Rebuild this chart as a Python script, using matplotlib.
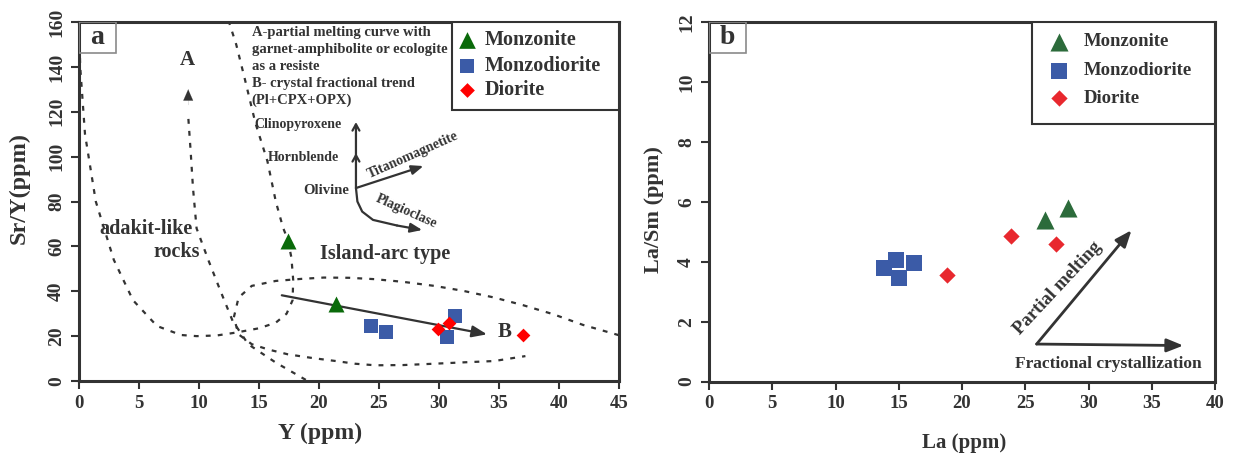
import matplotlib
matplotlib.use("Agg")
import matplotlib.pyplot as plt
from matplotlib.patches import Rectangle

plt.rcParams['font.family'] = ['Liberation Serif', 'DejaVu Serif']
plt.rcParams['font.weight'] = 'bold'

# ---------------- data ----------------
series_names = ["Monzonite", "Monzodiorite", "Diorite"]

# Panel a: Y (ppm) vs Sr/Y
a_monzonite_x = [17.45, 21.45]
a_monzonite_y = [62.5, 34.5]
a_monzodiorite_x = [24.3, 25.6, 31.3, 30.7]
a_monzodiorite_y = [24.5, 22.0, 29.0, 19.5]
a_diorite_x = [29.9, 30.8, 37.0]
a_diorite_y = [23.2, 26.0, 20.3]

# Panel b: La (ppm) vs La/Sm
b_monzonite_x = [26.6, 28.4]
b_monzonite_y = [5.4, 5.8]
b_monzodiorite_x = [13.8, 14.8, 15.0, 16.2]
b_monzodiorite_y = [3.8, 4.05, 3.45, 3.95]
b_diorite_x = [18.8, 23.9, 27.4]
b_diorite_y = [3.55, 4.85, 4.6]

adakite_curve_x = [0.0, 0.1, 0.5, 1.4, 2.9, 4.5, 6.5, 8.5, 9.8, 11.5, 13.1, 15.0, 16.4,
                   17.3, 17.8, 17.85, 17.7, 17.4, 17.0, 16.4, 15.7, 14.7, 13.8, 13.1, 12.5]
adakite_curve_y = [160, 140, 110, 80, 54, 36, 24.5, 20.5, 20.0, 20.3, 21.6, 23.5, 26.0,
                   30, 36, 45, 55, 63, 68.4, 80, 98, 115, 135, 150, 160]
curveA_x = [18.9, 16.4, 14.1, 12.8, 11.8, 10.8, 9.8, 9.5, 9.3, 9.1]
curveA_y = [0.5, 8.2, 16.4, 26.8, 40.0, 53.6, 68.0, 86.0, 102.7, 118.0]
arc_x = [45, 42, 39.5, 37, 34.6, 32, 29.6, 27, 24.6, 22.5, 20.4, 18.5, 16.4, 14.4, 13.3,
         12.9, 13.3, 14.4, 15.8, 17.4, 19.5, 21.4, 23, 24.7, 27, 29.6, 32, 34.6, 37.2]
arc_y = [20.4, 25, 29.8, 33.8, 37.2, 40.2, 42.4, 44.2, 45.4, 46, 46.1, 45.5, 44.6, 42.4, 37.2,
         28.3, 20.8, 16.4, 14, 11.9, 10.2, 8.9, 7.7, 7.0, 7.1, 7.7, 8.3, 8.9, 11.1]
trendB_start = (16.9, 38.2)
trendB_end = (34.0, 20.8)
olivine_origin = (23.08, 86.0)
hornblende_tip = (23.08, 101.6)
clinopyroxene_tip = (23.08, 115.4)
titanomagnetite_tip = (28.7, 95.8)
plagioclase_path_x = [23.08, 23.2, 23.6, 24.5, 26.5]
plagioclase_path_y = [86.0, 80.0, 75.5, 71.8, 69.3]
plagioclase_tip = (28.6, 67.3)

# panel b arrows
pm_start = (25.9, 1.25)
pm_end = (33.4, 5.05)
fc_end = (37.5, 1.2)

a_xticks = [0, 5, 10, 15, 20, 25, 30, 35, 40, 45]
a_yticks = [0, 20, 40, 60, 80, 100, 120, 140, 160]
b_xticks = [0, 5, 10, 15, 20, 25, 30, 35, 40]
b_yticks = [0, 2, 4, 6, 8, 10, 12]

notes_a = ["A-partial melting curve with", "garnet-amphibolite or ecologite",
           "as a resiste", "B- crystal fractional trend", "(Pl+CPX+OPX)"]

# ---------------- style ----------------
TXT = '#333333'
SP = '#333333'
cols_a = ['#0a6a0a', '#3b5ba7', '#ff0000']
cols_b = ['#2c6b3b', '#3b5ba7', '#e8282e']

fig = plt.figure(figsize=(12.35, 4.58), dpi=100)
axa = fig.add_axes([79/1235, (458-381)/458, 540/1235, 359/458])
axb = fig.add_axes([709/1235, (458-381.5)/458, 506/1235, 359.5/458])


def style_axes(ax, xt, yt, xlim, ylim):
    ax.set_xlim(*xlim)
    ax.set_ylim(*ylim)
    ax.set_xticks(xt)
    ax.set_yticks(yt)
    ax.set_xticklabels([str(v) for v in xt], fontsize=13.5, fontweight='bold', color=TXT)
    ax.set_yticklabels([str(v) for v in yt], fontsize=14, fontweight='bold', color=TXT,
                       rotation=90, va='center')
    ax.tick_params(direction='out', length=6, width=1.5, color=SP, pad=4)
    for s in ax.spines.values():
        s.set_color(SP)
        s.set_linewidth(2.2)


# ---------------- panel a ----------------
ax = axa
style_axes(ax, a_xticks, a_yticks, (0, 45), (0, 160))
dash = (0, (2.2, 3.2))
ax.plot(adakite_curve_x, adakite_curve_y, color=SP, lw=1.6, ls=dash, clip_on=False)
ax.plot(curveA_x, curveA_y, color=SP, lw=1.6, ls=dash)
ax.annotate('', xy=(9.1, 130), xytext=(9.1, 123),
            arrowprops=dict(arrowstyle='-|>,head_length=0.8,head_width=0.35',
                            color=SP, lw=0.1, shrinkA=0, shrinkB=0))
ax.plot(arc_x, arc_y, color=SP, lw=1.6, ls=dash)
ax.annotate('', xy=trendB_end, xytext=trendB_start,
            arrowprops=dict(arrowstyle='-|>,head_length=0.9,head_width=0.35',
                            color=SP, lw=1.6, shrinkA=0, shrinkB=0))
arrow_kw = dict(arrowstyle='-|>,head_length=0.7,head_width=0.28', color=SP, lw=1.6,
                shrinkA=0, shrinkB=0)
open_kw = dict(arrowstyle='->,head_length=0.45,head_width=0.25', color=SP, lw=1.6,
               shrinkA=0, shrinkB=0)
ax.annotate('', xy=hornblende_tip, xytext=olivine_origin, arrowprops=open_kw)
ax.annotate('', xy=clinopyroxene_tip, xytext=(olivine_origin[0], hornblende_tip[1] - 1),
            arrowprops=open_kw)
ax.annotate('', xy=titanomagnetite_tip, xytext=olivine_origin, arrowprops=arrow_kw)
ax.plot(plagioclase_path_x, plagioclase_path_y, color=SP, lw=1.6, solid_capstyle='round')
ax.annotate('', xy=plagioclase_tip, xytext=(plagioclase_path_x[-1], plagioclase_path_y[-1]),
            arrowprops=arrow_kw)

ax.scatter(a_monzonite_x, a_monzonite_y, marker='^', s=11.5**2, color=cols_a[0], zorder=5, linewidths=0)
ax.scatter(a_monzodiorite_x, a_monzodiorite_y, marker='s', s=10**2, color=cols_a[1], zorder=5, linewidths=0)
ax.scatter(a_diorite_x, a_diorite_y, marker='D', s=7**2, color=cols_a[2], zorder=6, linewidths=0)

for i, line in enumerate(notes_a):
    ax.text(14.4, 155.2 - i * 7.5, line, fontsize=10.5, color=TXT, va='center', ha='left')
ax.text(14.6, 114.1, 'Clinopyroxene', fontsize=10, color=TXT, va='center', ha='left')
ax.text(15.75, 99.8, 'Hornblende', fontsize=10, color=TXT, va='center', ha='left')
ax.text(22.5, 84.7, 'Olivine', fontsize=10.5, color=TXT, va='center', ha='right')
ax.text(27.8, 100.5, 'Titanomagnetite', fontsize=10, color=TXT, va='center', ha='center',
        rotation=24, rotation_mode='anchor')
ax.text(27.3, 75.5, 'Plagioclase', fontsize=10, color=TXT, va='center', ha='center',
        rotation=-24, rotation_mode='anchor')
ax.text(9.0, 143, 'A', fontsize=15, color=TXT, va='center', ha='center')
ax.text(35.5, 21.8, 'B', fontsize=15, color=TXT, va='center', ha='center')
ax.text(5.6, 67.7, 'adakit-like', fontsize=14.5, color=TXT, va='center', ha='center')
ax.text(10.1, 57.3, 'rocks', fontsize=14.5, color=TXT, va='center', ha='right')
ax.text(20.1, 56.6, 'Island-arc type', fontsize=14.5, color=TXT, va='center', ha='left')

# label box a
ax.add_patch(Rectangle((0, 146.2), 3.08, 13.8, fill=False, edgecolor='#8a8a8a', lw=1.2, zorder=4))
ax.text(1.54, 153.1, 'a', fontsize=20, color=TXT, va='center', ha='center')

# legend a
ax.add_patch(Rectangle((31.1, 120.8), 13.9, 39.2, facecolor='white', edgecolor=SP, lw=1.5, zorder=7))
leg_y_a = [152.0, 140.6, 129.8]
leg_m = ['^', 's', 'D']
leg_s_a = [12**2, 10.5**2, 7.5**2]
for k in range(3):
    ax.scatter([32.3], [leg_y_a[k]], marker=leg_m[k], s=leg_s_a[k], color=cols_a[k], zorder=8, linewidths=0)
    ax.text(33.8, leg_y_a[k], series_names[k], fontsize=14.5, color=TXT, va='center', ha='left', zorder=8)

ax.set_xlabel('Y (ppm)', fontsize=17, fontweight='bold', color=TXT, va='center')
ax.set_ylabel('Sr/Y(ppm)', fontsize=17.5, fontweight='bold', color=TXT, va='center')
ax.xaxis.set_label_coords(0.446, -0.145)
ax.yaxis.set_label_coords(-0.111, 0.538)

# ---------------- panel b ----------------
ax = axb
style_axes(ax, b_xticks, b_yticks, (0, 40), (0, 12))
ax.scatter(b_monzonite_x, b_monzonite_y, marker='^', s=13**2, color=cols_b[0], zorder=5, linewidths=0)
ax.scatter(b_monzodiorite_x, b_monzodiorite_y, marker='s', s=11.5**2, color=cols_b[1], zorder=5, linewidths=0)
ax.scatter(b_diorite_x, b_diorite_y, marker='D', s=8.3**2, color=cols_b[2], zorder=6, linewidths=0)

ax.annotate('', xy=pm_end, xytext=pm_start,
            arrowprops=dict(arrowstyle='-|>,head_length=1.0,head_width=0.4', color=SP, lw=2,
                            shrinkA=0, shrinkB=0))
ax.annotate('', xy=fc_end, xytext=pm_start,
            arrowprops=dict(arrowstyle='-|>,head_length=1.0,head_width=0.4', color=SP, lw=2,
                            shrinkA=0, shrinkB=0))
ax.text(27.6, 3.12, 'Partial melting', fontsize=13.5, color=TXT, va='center', ha='center',
        rotation=47, rotation_mode='anchor')
ax.text(31.6, 0.58, 'Fractional crystallization', fontsize=12.5, color=TXT, va='center', ha='center')

ax.add_patch(Rectangle((0, 10.97), 2.92, 1.03, fill=False, edgecolor='#8a8a8a', lw=1.2, zorder=4))
ax.text(1.46, 11.48, 'b', fontsize=20, color=TXT, va='center', ha='center')

ax.add_patch(Rectangle((25.5, 8.59), 14.5, 3.41, facecolor='white', edgecolor=SP, lw=1.5, zorder=7))
leg_y_b = [11.34, 10.37, 9.45]
leg_s_b = [13**2, 11.5**2, 8.3**2]
for k in range(3):
    ax.scatter([27.7], [leg_y_b[k]], marker=leg_m[k], s=leg_s_b[k], color=cols_b[k], zorder=8, linewidths=0)
    ax.text(29.6, leg_y_b[k], series_names[k], fontsize=13.5, color=TXT, va='center', ha='left', zorder=8)

ax.set_xlabel('La (ppm)', fontsize=15, fontweight='bold', color=TXT, va='center')
ax.set_ylabel('La/Sm (ppm)', fontsize=16, fontweight='bold', color=TXT, va='center')
ax.xaxis.set_label_coords(0.504, -0.171)
ax.yaxis.set_label_coords(-0.109, 0.477)

fig.savefig('out.png', dpi=100)
